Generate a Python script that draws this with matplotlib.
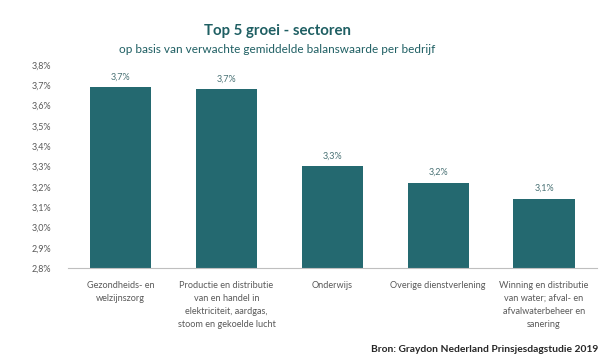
import matplotlib.pyplot as plt
from matplotlib.ticker import FuncFormatter

# Data
sectoren = [
    "Gezondheids- en\nwelzijnszorg",
    "Productie en distributie\nvan en handel in\nelektriciteit, aardgas,\nstoom en gekoelde lucht",
    "Onderwijs",
    "Overige dienstverlening",
    "Winning en distributie\nvan water; afval- en\nafvalwaterbeheer en\nsanering",
]
groei = [3.69, 3.68, 3.30, 3.22, 3.14]
labels = ["3,7%", "3,7%", "3,3%", "3,2%", "3,1%"]

plt.rcParams['font.family'] = ['Lato', 'DejaVu Sans']

fig = plt.figure(figsize=(6, 3.61), dpi=100)
ax = fig.add_axes([0.113, 0.2576, 0.882, 0.5624])

x = range(len(sectoren))
ax.bar(x, groei, width=0.58, color='#246970', bottom=0)
for i, (v, l) in enumerate(zip(groei, labels)):
    ax.text(i, v + 0.03, l, ha='center', va='bottom', fontsize=6.5, color='#4a7275')

ax.set_ylim(2.8, 3.8)
ax.set_xlim(-0.5, 4.5)
ax.set_yticks([2.8 + 0.1 * i for i in range(11)])
ax.yaxis.set_major_formatter(FuncFormatter(lambda v, p: f"{v:.1f}%".replace('.', ',')))
ax.set_xticks(list(x))
ax.set_xticklabels(sectoren, fontsize=6.6, color='#595959', linespacing=1.6)
ax.tick_params(axis='y', labelsize=6.5, colors='#595959', length=0, pad=12)
ax.tick_params(axis='x', length=0, pad=9)
for s in ['top', 'right', 'left']:
    ax.spines[s].set_visible(False)
ax.spines['bottom'].set_color('#bfbfbf')
ax.spines['bottom'].set_linewidth(0.8)

fig.text(0.462, 0.902, "Top 5 groei - sectoren", ha='center', fontsize=10.8,
         fontweight='bold', color='#1f5f63')
fig.text(0.462, 0.853, "op basis van verwachte gemiddelde balanswaarde per bedrijf",
         ha='center', fontsize=8.5, color='#1f5f63')
fig.text(0.997, 0.025, "Bron: Graydon Nederland Prinsjesdagstudie 2019", ha='right',
         fontsize=7.4, fontweight='bold', color='#262626')

fig.savefig('out.png', dpi=100)
